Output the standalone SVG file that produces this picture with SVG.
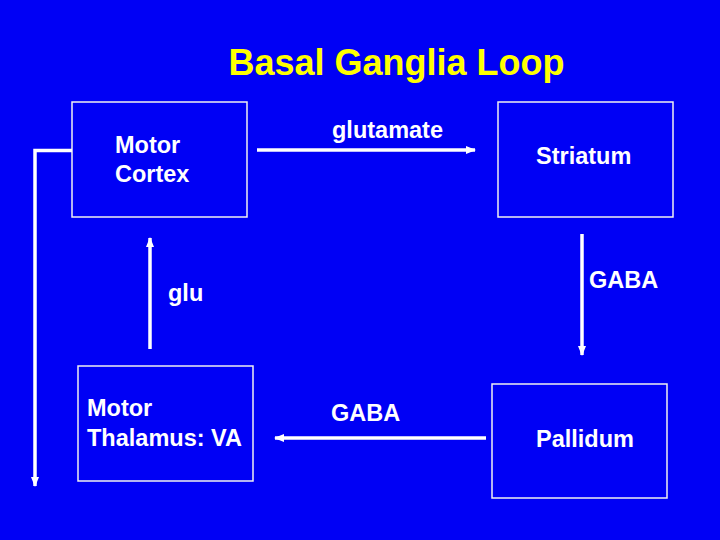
<svg xmlns="http://www.w3.org/2000/svg" width="720" height="540" viewBox="0 0 720 540">
<style>
.box{fill:none;stroke:#f0f0f0;stroke-width:1.5}
.lbl{font-family:"Liberation Sans",Arial,sans-serif;font-weight:bold;font-size:23.5px;fill:#ffffff}
.title{font-family:"Liberation Sans",Arial,sans-serif;font-weight:bold;font-size:36px;fill:#ffff00}
.conn{fill:none;stroke:#ffffff;stroke-width:3.5}
</style>
<defs>
<marker id="ah" markerUnits="userSpaceOnUse" markerWidth="10" markerHeight="10" viewBox="0 0 10 10" refX="9" refY="5" orient="auto">
<path d="M0,1 L10,5 L0,9 Z" fill="#ffffff"/>
</marker>
</defs>
<rect width="720" height="540" fill="#0000f5"/>
<text class="title" x="396.5" y="75" text-anchor="middle">Basal Ganglia Loop</text>
<g id="motor-cortex">
<rect class="box" x="72" y="102" width="175" height="115"/>
<text class="lbl" x="115" y="153">Motor</text>
<text class="lbl" x="115" y="182">Cortex</text>
</g>
<g id="striatum">
<rect class="box" x="498" y="102" width="175" height="115"/>
<text class="lbl" x="536" y="164">Striatum</text>
</g>
<g id="thalamus">
<rect class="box" x="78" y="366" width="175" height="115"/>
<text class="lbl" x="87" y="416">Motor</text>
<text class="lbl" x="87" y="446">Thalamus: VA</text>
</g>
<g id="pallidum">
<rect class="box" x="492" y="384" width="175" height="114"/>
<text class="lbl" x="536" y="447">Pallidum</text>
</g>
<g id="connectors">
<path class="conn" d="M72,150.5 L35,150.5 L35,486" marker-end="url(#ah)"/>
<path class="conn" d="M257,150 L475,150" marker-end="url(#ah)"/>
<path class="conn" d="M582,234 L582,355" marker-end="url(#ah)"/>
<path class="conn" d="M486,438 L275,438" marker-end="url(#ah)"/>
<path class="conn" d="M150,349 L150,238" marker-end="url(#ah)"/>
<text class="lbl" x="332" y="138">glutamate</text>
<text class="lbl" x="589" y="288">GABA</text>
<text class="lbl" x="331" y="421">GABA</text>
<text class="lbl" x="168" y="301">glu</text>
</g>
</svg>
